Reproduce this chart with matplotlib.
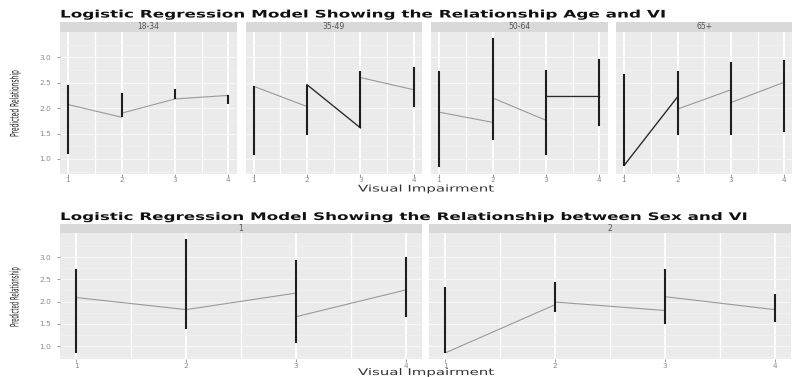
import matplotlib
matplotlib.use("Agg")
import matplotlib.pyplot as plt
from matplotlib import patheffects
from matplotlib.patches import Rectangle
from matplotlib.ticker import FormatStrFormatter
from matplotlib.transforms import Affine2D

# visual impairment levels and the order the fitted line visits them
vi_levels = [1, 2, 3, 4]
line_x = [1, 2, 2, 3, 3, 4]

age_groups = ["18-34", "35-49", "50-64", "65+"]
age_line_y = [
    [2.07, 1.82, 1.90, 2.18, 2.18, 2.25],
    [2.43, 2.03, 2.46, 1.61, 2.60, 2.36],
    [1.92, 1.72, 2.20, 1.76, 2.23, 2.23],
    [0.87, 2.22, 1.98, 2.36, 2.11, 2.51],
]
age_err_lo = [
    [1.10, 1.82, 2.18, 2.08],
    [1.07, 1.48, 1.61, 2.03],
    [0.84, 1.38, 1.07, 1.64],
    [0.87, 1.48, 1.48, 1.53],
]
age_err_hi = [
    [2.46, 2.29, 2.37, 2.25],
    [2.44, 2.46, 2.72, 2.80],
    [2.72, 3.37, 2.75, 2.96],
    [2.67, 2.72, 2.91, 2.95],
]
age_dark = [[], [2], [4], [0]]

sex_groups = ["1", "2"]
sex_line_y = [
    [2.09, 1.82, 1.82, 2.19, 1.66, 2.26],
    [0.85, 1.93, 1.99, 1.80, 2.11, 1.82],
]
sex_err_lo = [[0.84, 1.38, 1.06, 1.65], [0.85, 1.76, 1.49, 1.54]]
sex_err_hi = [[2.74, 3.41, 2.94, 2.99], [2.32, 2.43, 2.74, 2.17]]
sex_dark = [[], []]

y_major = [1.0, 1.5, 2.0, 2.5, 3.0]
y_minor = [0.75, 1.25, 1.75, 2.25, 2.75, 3.25]
x_minor = [1.5, 2.5, 3.5]

PANEL = "#ebebeb"
STRIP = "#d9d9d9"
TICK = "#8c8c8c"
LINE = "#9a9a9a"
DARK = "#2b2b2b"
BAR = "#1e1e1e"

W, H = 792, 377
fig = plt.figure(figsize=(W / 100, H / 100), dpi=100)


class Stretch(patheffects.AbstractPathEffect):
    """Scale glyphs along the baseline."""

    def __init__(self, sx=1.0):
        super().__init__()
        self.sx = sx

    def draw_path(self, renderer, gc, tpath, affine, rgbFace=None):
        renderer.draw_path(gc, tpath, Affine2D().scale(self.sx, 1.0) + affine, rgbFace)


def px_axes(x0, y0, x1, y1):
    return fig.add_axes([x0 / W, 1 - y1 / H, (x1 - x0) / W, (y1 - y0) / H])


def data_ylim(lo, hi):
    a = min(min(r) for r in lo)
    b = max(max(r) for r in hi)
    pad = (b - a) * 0.05
    return a - pad, b + pad


def draw_facet(x0, x1, top, bottom, strip_h, label, ly, lo, hi, dark, ylim, first):
    ax = px_axes(x0, top, x1, bottom)
    ax.set_facecolor(PANEL)
    for s in ax.spines.values():
        s.set_visible(False)
    ax.set_xlim(0.85, 4.15)
    ax.set_ylim(*ylim)
    ax.set_xticks(vi_levels)
    ax.set_xticks(x_minor, minor=True)
    ax.set_yticks(y_major)
    ax.set_yticks(y_minor, minor=True)
    ax.yaxis.set_major_formatter(FormatStrFormatter("%.1f"))
    ax.set_axisbelow(True)
    ax.grid(axis="x", which="major", color="white", lw=1.3)
    ax.grid(axis="x", which="minor", color="white", lw=0.9)
    ax.grid(axis="y", which="major", color="#f7f7f7", lw=0.8)
    ax.grid(axis="y", which="minor", color="#f1f1f1", lw=0.5)
    ax.tick_params(which="minor", length=0)
    ax.tick_params(which="major", length=2.0, width=0.6, color=TICK,
                   labelcolor=TICK, labelsize=5.3)
    ax.tick_params(axis="y", pad=4.5)
    ax.tick_params(axis="x", pad=0.6)
    if not first:
        ax.tick_params(axis="y", which="both", left=False, labelleft=False)

    ax.plot(line_x, ly, color=LINE, lw=0.8)
    for i in dark:
        ax.plot(line_x[i:i + 2], ly[i:i + 2], color=DARK, lw=0.9)
    ax.vlines(vi_levels, lo, hi, color=BAR, lw=1.5)

    fig.add_artist(Rectangle((x0 / W, 1 - top / H), (x1 - x0) / W, strip_h / H,
                             transform=fig.transFigure, color=STRIP, lw=0))
    fig.text((x0 + x1) / 2 / W, 1 - (top - strip_h / 2) / H, label,
             ha="center", va="center", size=5.5, color="#555555")
    return ax


# fitted text: (text, target length in px)
fitted = []


def add_text(x, y, s, width, **kw):
    t = fig.text(x / W, 1 - y / H, s, **kw)
    fitted.append((t, width))
    return t


# age facets
ylim_age = data_ylim(age_err_lo, age_err_hi)
age_left = [60, 245.5, 431, 616]
for k, g in enumerate(age_groups):
    draw_facet(age_left[k], age_left[k] + 176.5, 32, 173.5, 10.5, g,
               age_line_y[k], age_err_lo[k], age_err_hi[k], age_dark[k],
               ylim_age, k == 0)

add_text(60, 17.5, "Logistic Regression Model Showing the Relationship Age and VI", 608,
         ha="left", va="baseline", weight="bold", size=7.5, color="#111111")
add_text(358, 191.5, "Visual Impairment", 137, ha="left", va="baseline",
         size=6.6, color="#333333")
add_text(18.5, 137, "Predicted Relationship", 67, ha="left", va="baseline",
         rotation=90, rotation_mode="anchor", size=8.5, color="#222222")

# sex facets
ylim_sex = data_ylim(sex_err_lo, sex_err_hi)
sex_left = [60, 429]
for k, g in enumerate(sex_groups):
    draw_facet(sex_left[k], sex_left[k] + 362, 233, 359, 9.5, g,
               sex_line_y[k], sex_err_lo[k], sex_err_hi[k], sex_dark[k],
               ylim_sex, k == 0)

add_text(60, 220, "Logistic Regression Model Showing the Relationship between Sex and VI", 690,
         ha="left", va="baseline", weight="bold", size=7.5, color="#111111")
add_text(358, 375, "Visual Impairment", 137, ha="left", va="baseline",
         size=6.6, color="#333333")
add_text(18.5, 327, "Predicted Relationship", 60, ha="left", va="baseline",
         rotation=90, rotation_mode="anchor", size=8.5, color="#222222")

fig.canvas.draw()
r = fig.canvas.get_renderer()
for t, width in fitted:
    bb = t.get_window_extent(r)
    natural = bb.height if t.get_rotation() == 90 else bb.width
    t.set_path_effects([Stretch(width / natural)])

fig.savefig("out.png", dpi=100, facecolor="white")
